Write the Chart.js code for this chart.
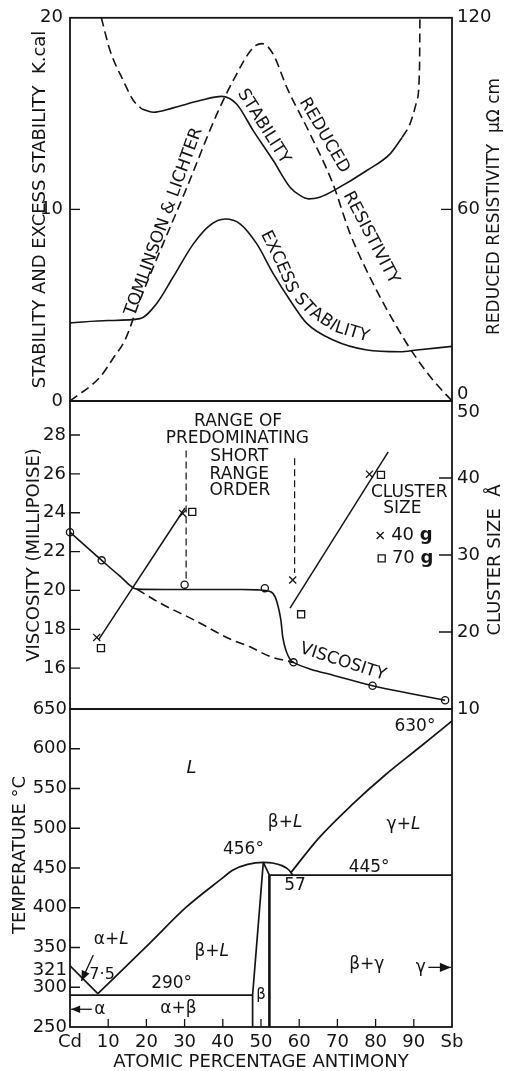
<!DOCTYPE html>
<html>
<head>
<meta charset="utf-8">
<script src="https://cdn.jsdelivr.net/npm/chart.js@4.4.1/dist/chart.umd.min.js"></script>
<style>
  html, body { margin: 0; padding: 0; background: #fff; }
  #wrap { position: relative; width: 505px; height: 1071px; }
  canvas { position: absolute; left: 0; top: 0; }
</style>
</head>
<body>
<div id="wrap">
  <canvas id="stabilityChart" width="505" height="1071"></canvas>
  <canvas id="viscosityChart" width="505" height="1071"></canvas>
  <canvas id="phaseChart" width="505" height="1071"></canvas>
</div>
<script>
// x everywhere = atomic percentage antimony (Cd = 0, Sb = 100)

// tick labels
const compTicks = [0, 10, 20, 30, 40, 50, 60, 70, 80, 90, 100];
const stabTicks = [0, 10, 20];
const resistTicks = [60, 120];
const viscTicks = [16, 18, 20, 22, 24, 26, 28];
const clusterTicks = [10, 20, 30, 40];
const tempTicks = [250, 300, 321, 350, 400, 450, 500, 550, 600, 650];

// top panel, K.cal
const excessStability = [[0, 4.08], [10, 4.2], [18.3, 4.3], [22.7, 5.09], [27, 6.47], [32.3, 8.2], [36.6, 9.17],
  [40.6, 9.5], [44.5, 9.25], [48.9, 8.2], [53.2, 6.65], [57.6, 5.26], [62, 4.05], [68.9, 3.18], [77.7, 2.66],
  [86.4, 2.57], [90.8, 2.66], [100, 2.85]];
const stability = [[18.8, 15.24], [21.8, 15.07], [27, 15.3], [34, 15.68], [39.7, 15.9], [43.6, 15.5], [48, 14.1],
  [53.2, 12.55], [57.6, 11.16], [60.2, 10.73], [62.4, 10.55], [65.4, 10.64], [69.8, 11.07], [77.7, 12.03],
  [83.8, 12.9], [87, 13.77]];
const stabilityExtrapLeft = [[8.2, 20], [10.5, 18.28], [13.95, 16.72], [16.6, 15.68], [18.8, 15.24]];
const stabilityExtrapRight = [[87, 13.77], [89, 14.46], [90.8, 15.68], [91.5, 17.4], [91.6, 20]];
// top panel, reduced resistivity (Tomlinson & Lichter), micro-ohm cm
const resistivity = [[0, 0], [7.85, 7.5], [11.3, 13.4], [14.4, 19.1], [18.3, 31.6], [30.6, 66.9], [38.5, 90],
  [42.7, 100.3], [47.9, 110.6], [50.3, 111.9], [53.1, 108.8], [56.8, 98.1], [62.8, 83.75], [68.8, 68.1],
  [73.3, 52.5], [79.3, 36.9], [85.6, 23.1], [89.8, 15], [95, 6.6], [100, 0]];

// middle panel, viscosity (millipoise)
const viscosityPoints = [[0, 23.0], [8.3, 21.55], [30, 20.3], [51, 20.12], [58.5, 16.3], [79.2, 15.1], [98.2, 14.35]];
const viscosityCurve = [[0, 23.0], [8.3, 21.55], [13, 20.75], [17.5, 20.07], [25, 20.05], [35, 20.05], [45, 20.05],
  [49, 20.03], [52.4, 19.95], [53.7, 19.67], [54.5, 19.16], [55.2, 18.47], [55.7, 17.6], [56.5, 16.93],
  [57.8, 16.4], [58.5, 16.3], [63, 15.95], [68.9, 15.64], [79.2, 15.1], [89, 14.7], [98.2, 14.35]];
const viscosityIdeal = [[17.5, 20.07], [23.6, 19.35], [32.3, 18.5], [41.9, 17.5], [47.1, 17.1], [52.4, 16.6], [58.5, 16.3]];
const rangeStart = [[30.4, 27.2], [30.4, 20.6]];
const rangeEnd = [[58.8, 26.8], [58.8, 20.9]];
// middle panel, cluster size (angstrom)
const cluster40g = [[7.0, 19.3], [29.5, 35.4], [58.3, 26.75], [78.4, 40.5]];
const cluster70g = [[8.1, 17.9], [32, 35.6], [60.5, 22.3], [81.4, 40.4]];
const clusterFitLow = [[7.5, 19.0], [30.1, 36.1]];
const clusterFitHigh = [[57.6, 23.1], [83.3, 43.4]];

// bottom panel, Cd-Sb phase diagram (deg C)
const cdLiquidus = [[0, 327], [7.3, 292]];
const betaLiquidus = [[7.3, 292], [20.9, 355.6], [30.5, 401], [39.3, 435], [42.7, 447.5], [46.5, 454.5],
  [50.6, 457], [53, 456.3], [55.5, 453], [57.3, 447.5], [58.3, 441]];
const sbLiquidus = [[57.8, 444], [65, 487], [73.7, 529], [82.5, 567], [91.2, 600.6], [100, 635]];
const eutectic290 = [[0, 290], [47.8, 290]];
const betaLeft = [[50.6, 457], [47.8, 290], [47.8, 250]];
const betaRight = [[50.6, 457], [52.2, 441], [100, 441]];
const betaRightWall = [[52.2, 441], [52.2, 250]];

const FONT = '"DejaVu Sans", sans-serif';
const INK = '#141414';
const LEFT_W = 70, RIGHT_W = 53;

const xy = pts => pts.map(p => ({ x: p[0], y: p[1] }));

function fontStr(size, style) {
  return (style || '') + ' ' + size + 'px ' + FONT;
}

function drawParts(ctx, parts, x, y, size) {
  if (typeof parts === 'string') parts = [[parts, '']];
  let total = 0;
  const widths = parts.map(([t, s]) => {
    ctx.font = fontStr(size, s);
    const w = ctx.measureText(t).width;
    total += w;
    return w;
  });
  let cx = x - total / 2;
  ctx.textAlign = 'left';
  ctx.textBaseline = 'middle';
  parts.forEach(([t, s], i) => {
    ctx.font = fontStr(size, s);
    ctx.fillText(t, cx, y);
    cx += widths[i];
  });
}

// letters laid one by one along a polyline (pixel points)
function textAlong(ctx, text, pts, size) {
  ctx.font = fontStr(size, '');
  const segs = [];
  let total = 0;
  for (let i = 1; i < pts.length; i++) {
    const dx = pts[i][0] - pts[i - 1][0], dy = pts[i][1] - pts[i - 1][1];
    const len = Math.hypot(dx, dy);
    segs.push({ x: pts[i - 1][0], y: pts[i - 1][1], dx, dy, len, start: total });
    total += len;
  }
  let d = (total - ctx.measureText(text).width) / 2;
  ctx.textAlign = 'center';
  ctx.textBaseline = 'middle';
  for (const ch of text) {
    const w = ctx.measureText(ch).width;
    const m = d + w / 2;
    const s = segs.find(sg => m <= sg.start + sg.len) || segs[segs.length - 1];
    const t = (m - s.start) / s.len;
    ctx.save();
    ctx.translate(s.x + s.dx * t, s.y + s.dy * t);
    ctx.rotate(Math.atan2(s.dy, s.dx));
    ctx.fillText(ch, 0, 0);
    ctx.restore();
    d += w;
  }
}

function arrowHead(ctx, from, to, len, half) {
  const ang = Math.atan2(to[1] - from[1], to[0] - from[0]);
  ctx.beginPath();
  ctx.moveTo(to[0], to[1]);
  ctx.lineTo(to[0] - len * Math.cos(ang) + half * Math.sin(ang), to[1] - len * Math.sin(ang) - half * Math.cos(ang));
  ctx.lineTo(to[0] - len * Math.cos(ang) - half * Math.sin(ang), to[1] - len * Math.sin(ang) + half * Math.cos(ang));
  ctx.closePath();
  ctx.fill();
}

function legendMark(ctx, style, x, y) {
  ctx.beginPath();
  if (style === 'rect') {
    ctx.rect(x - 3.5, y - 3.5, 7, 7);
    ctx.fillStyle = '#fff';
    ctx.fill();
  } else {
    ctx.moveTo(x - 3.5, y - 3.5); ctx.lineTo(x + 3.5, y + 3.5);
    ctx.moveTo(x + 3.5, y - 3.5); ctx.lineTo(x - 3.5, y + 3.5);
  }
  ctx.stroke();
  ctx.fillStyle = INK;
}

// frame, inward ticks, titles and the lettering inside each panel
const panelDecor = {
  id: 'panelDecor',
  afterDraw(chart, args, o) {
    const { ctx, chartArea: a, scales } = chart;
    const sy = scales.y;
    const toPx = p => [scales.x.getPixelForValue(p[0]), sy.getPixelForValue(p[1])];
    ctx.save();
    ctx.strokeStyle = INK;
    ctx.fillStyle = INK;
    ctx.lineWidth = 1.8;
    ctx.strokeRect(a.left, a.top, a.right - a.left, a.bottom - a.top);

    ctx.lineWidth = 1.3;
    (o.marks || []).forEach(m => {
      const s = scales[m.axis];
      ctx.beginPath();
      m.values.forEach(v => {
        const p = s.getPixelForValue(v);
        if (s.isHorizontal()) { ctx.moveTo(p, a.bottom); ctx.lineTo(p, a.bottom - m.len); }
        else if (s.position === 'left') { ctx.moveTo(a.left, p); ctx.lineTo(a.left + m.len, p); }
        else { ctx.moveTo(a.right, p); ctx.lineTo(a.right - m.len, p); }
      });
      ctx.stroke();
    });

    (o.edgeText || []).forEach(e => {
      ctx.font = fontStr(18, '');
      ctx.textAlign = 'left';
      ctx.textBaseline = 'middle';
      ctx.fillText(e.text, e.x, scales[e.axis].getPixelForValue(e.value) + e.dy);
    });

    (o.titles || []).forEach(t => {
      const s = scales[t.axis];
      ctx.save();
      ctx.translate(t.x, (s.top + s.bottom) / 2 + (t.dy || 0));
      ctx.rotate(-Math.PI / 2);
      ctx.font = fontStr(t.size || 18, '');
      ctx.textAlign = 'center';
      ctx.textBaseline = 'middle';
      ctx.fillText(t.text, 0, 0);
      ctx.restore();
    });

    (o.labels || []).forEach(l => {
      const size = l.size || 17;
      if (l.path) textAlong(ctx, l.text, l.path.map(toPx), size);
      else {
        const [x, y] = toPx([l.x, l.y]);
        drawParts(ctx, l.text, x, y, size);
      }
    });

    ctx.lineWidth = 1.3;
    (o.markers || []).forEach(m => {
      const [x, y] = toPx(m.at);
      legendMark(ctx, m.style, x, y);
    });

    (o.arrows || []).forEach(ar => {
      const f = toPx(ar.from), t = toPx(ar.to);
      ctx.beginPath();
      ctx.moveTo(f[0], f[1]);
      ctx.lineTo(t[0], t[1]);
      ctx.stroke();
      arrowHead(ctx, f, t, ar.head, ar.head * 0.42);
    });
    ctx.restore();
  }
};

function curve(data, axis, extra) {
  return Object.assign({
    data: xy(data), yAxisID: axis, borderColor: INK, borderWidth: 1.6, pointRadius: 0,
    fill: false, cubicInterpolationMode: 'monotone'
  }, extra);
}

function straight(data, axis, extra) {
  return Object.assign({
    data: xy(data), yAxisID: axis, borderColor: INK, borderWidth: 1.7, pointRadius: 0,
    fill: false, tension: 0
  }, extra);
}

function markers(data, axis, style, radius) {
  return {
    data: xy(data), yAxisID: axis, showLine: false, clip: false,
    pointStyle: style, pointRadius: radius, borderWidth: 1.3,
    pointBorderColor: INK, pointBackgroundColor: '#fff'
  };
}

function yAxis(pos, min, max, ticks, pad) {
  return {
    type: 'linear', position: pos, min, max,
    grid: { display: false, drawTicks: false },
    border: { display: false },
    afterBuildTicks: s => { s.ticks = ticks.map(v => ({ value: v })); },
    afterFit: s => { s.width = pos === 'left' ? LEFT_W : RIGHT_W; },
    ticks: { autoSkip: false, padding: pad, color: INK, font: { family: FONT, size: 18 } }
  };
}

const hiddenX = { type: 'linear', min: 0, max: 100, display: false };

function baseOptions(padding, scales, decor) {
  return {
    responsive: false,
    animation: false,
    events: [],
    layout: { padding },
    scales,
    plugins: { legend: { display: false }, tooltip: { enabled: false }, panelDecor: decor }
  };
}

const dash = [9, 5];

new Chart(document.getElementById('stabilityChart'), {
  type: 'line',
  plugins: [panelDecor],
  data: {
    datasets: [
      curve(excessStability, 'y'),
      curve(stability, 'y'),
      curve(stabilityExtrapLeft, 'y', { borderDash: dash }),
      curve(stabilityExtrapRight, 'y', { borderDash: dash }),
      curve(resistivity, 'y1', { borderDash: dash })
    ]
  },
  options: baseOptions({ top: 17, bottom: 670, left: 0, right: 0 }, {
    x: hiddenX,
    y: yAxis('left', 0, 20, stabTicks, 7),
    y1: yAxis('right', 0, 120, resistTicks, 5)
  }, {
    marks: [{ axis: 'y', values: [10], len: 10 }, { axis: 'y1', values: [60], len: 11 }],
    edgeText: [{ axis: 'y1', value: 0, text: '0', x: 457, dy: -7 }],
    titles: [
      { axis: 'y', text: 'STABILITY AND EXCESS STABILITY  K.cal', x: 40 },
      { axis: 'y1', text: 'REDUCED RESISTIVITY  \u03bc\u03a9 cm', x: 495, dy: -3, size: 17 }
    ],
    labels: [
      { text: 'TOMLINSON & LICHTER', path: [[15.6, 4.4], [33.6, 14.3]] },
      { text: 'STABILITY', path: [[44.5, 16.3], [56.7, 12.4]] },
      { text: 'REDUCED', path: [[60.7, 15.85], [72.4, 11.86]] },
      { text: 'RESISTIVITY', path: [[72.0, 11.08], [85.5, 5.95]] },
      { text: 'EXCESS STABILITY', path: [[50.5, 9.0], [55, 7.24], [58.1, 5.78], [62.8, 4.74], [69.4, 3.85], [78.5, 3.3]] }
    ]
  })
});

new Chart(document.getElementById('viscosityChart'), {
  type: 'line',
  plugins: [panelDecor],
  data: {
    datasets: [
      curve(viscosityCurve, 'y'),
      curve(viscosityIdeal, 'y', { borderDash: dash }),
      straight(rangeStart, 'y', { borderDash: [7, 4], borderWidth: 1.2 }),
      straight(rangeEnd, 'y', { borderDash: [7, 4], borderWidth: 1.2 }),
      straight(clusterFitLow, 'y1', { borderWidth: 1.5 }),
      straight(clusterFitHigh, 'y1', { borderWidth: 1.5 }),
      markers(viscosityPoints, 'y', 'circle', 3.6),
      markers(cluster40g, 'y1', 'crossRot', 5),
      markers(cluster70g, 'y1', 'rect', 5)
    ]
  },
  options: baseOptions({ top: 401, bottom: 362, left: 0, right: 0 }, {
    x: hiddenX,
    y: yAxis('left', 13.9, 29.75, viscTicks, 4),
    y1: yAxis('right', 10, 50, clusterTicks, 5)
  }, {
    marks: [{ axis: 'y', values: viscTicks, len: 10 }, { axis: 'y1', values: [20, 30, 40], len: 13 }],
    edgeText: [{ axis: 'y1', value: 50, text: '50', x: 457, dy: 11 }],
    titles: [
      { axis: 'y', text: 'VISCOSITY (MILLIPOISE)', x: 34.5 },
      { axis: 'y1', text: 'CLUSTER SIZE  \u00c5', x: 495, dy: 5 }
    ],
    labels: [
      { text: 'RANGE OF', x: 44, y: 28.68 },
      { text: 'PREDOMINATING', x: 43.8, y: 27.83 },
      { text: 'SHORT', x: 44.3, y: 26.88 },
      { text: 'RANGE', x: 44.3, y: 25.97 },
      { text: 'ORDER', x: 44.5, y: 25.13 },
      { text: 'CLUSTER', x: 88.8, y: 25.03 },
      { text: 'SIZE', x: 87, y: 24.22 },
      { text: [['40 ', ''], ['g', 'bold']], x: 89.5, y: 22.83, size: 18 },
      { text: [['70 ', ''], ['g', 'bold']], x: 89.7, y: 21.65, size: 18 },
      { text: 'VISCOSITY', path: [[60.2, 17.03], [70.7, 16.36], [82.7, 15.6]] }
    ],
    markers: [{ style: 'crossRot', at: [81.2, 22.83] }, { style: 'rect', at: [81.6, 21.65] }]
  })
});

const italicL = ['L', 'italic'];

new Chart(document.getElementById('phaseChart'), {
  type: 'line',
  plugins: [panelDecor],
  data: {
    datasets: [
      straight(cdLiquidus, 'y'),
      curve(betaLiquidus, 'y', { borderWidth: 1.7 }),
      curve(sbLiquidus, 'y', { borderWidth: 1.7 }),
      straight(eutectic290, 'y'),
      straight(betaLeft, 'y'),
      straight(betaRight, 'y'),
      straight(betaRightWall, 'y', { borderWidth: 2.6 })
    ]
  },
  options: baseOptions({ top: 709, bottom: 0, left: 0, right: RIGHT_W }, {
    x: {
      type: 'linear', min: 0, max: 100,
      grid: { display: false, drawTicks: false },
      border: { display: false },
      afterBuildTicks: s => { s.ticks = compTicks.map(v => ({ value: v })); },
      afterFit: s => { s.height = 44; },
      ticks: {
        autoSkip: false, maxRotation: 0, padding: 5, color: INK,
        font: { family: FONT, size: 18 },
        callback: v => (v === 0 ? 'Cd' : v === 100 ? 'Sb' : v)
      },
      title: {
        display: true, text: 'ATOMIC PERCENTAGE ANTIMONY', color: INK, padding: 0,
        font: { family: FONT, size: 18, lineHeight: 1 }
      }
    },
    y: yAxis('left', 250, 650, tempTicks, 3)
  }, {
    marks: [
      { axis: 'y', values: [300, 350, 400, 450, 500, 550, 600], len: 10 },
      { axis: 'x', values: [10, 20, 30, 40, 50, 60, 70, 80, 90], len: 8 }
    ],
    titles: [{ axis: 'y', text: 'TEMPERATURE \u00b0C', x: 20, dy: -13 }],
    labels: [
      { text: [italicL], x: 31.8, y: 576, size: 18 },
      { text: [['\u03b2+', ''], italicL], x: 56.3, y: 506.6 },
      { text: [['\u03b3+', ''], italicL], x: 87.3, y: 504 },
      { text: '630\u00b0', x: 90.3, y: 627.7 },
      { text: '456\u00b0', x: 45.4, y: 472.6 },
      { text: '445\u00b0', x: 78.3, y: 451 },
      { text: '57', x: 58.9, y: 428 },
      { text: [['\u03b1+', ''], italicL], x: 10.8, y: 359.4 },
      { text: '7\u00b75', x: 8.4, y: 315.4, size: 16 },
      { text: '290\u00b0', x: 26.6, y: 305 },
      { text: [['\u03b2+', ''], italicL], x: 37.1, y: 344.7 },
      { text: '\u03b2', x: 50, y: 290, size: 15 },
      { text: '\u03b1+\u03b2', x: 28.4, y: 273.5 },
      { text: '\u03b1', x: 7.8, y: 272.3 },
      { text: '\u03b2+\u03b3', x: 77.7, y: 328 },
      { text: '\u03b3', x: 91.8, y: 325 }
    ],
    arrows: [
      { from: [6.1, 340.6], to: [3.0, 308], head: 10 },
      { from: [5.7, 272.3], to: [0.3, 272.3], head: 9 },
      { from: [93.8, 325], to: [99.7, 325], head: 11 }
    ]
  })
});
</script>
</body>
</html>
